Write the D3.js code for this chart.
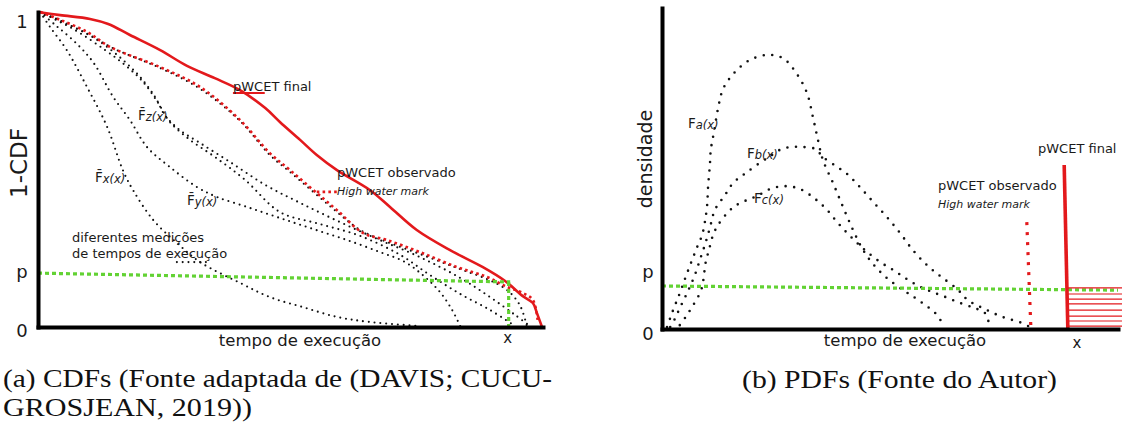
<!DOCTYPE html>
<html>
<head>
<meta charset="utf-8">
<script src="https://cdn.jsdelivr.net/npm/d3@7"></script>
<style>
  body { margin: 0; background: #fff; }
  svg { display: block; }
</style>
</head>
<body>
<svg id="fig" width="1122" height="428"></svg>
<script>
// ---------------- (a) CDF panel: [execution time, 1-CDF] ----------------
const cdfFinal = [[0,1.0],[4.4,0.990],[10.3,0.978],[13.9,0.962],[18.2,0.927],[24.2,0.879],[29.5,0.829],[35.0,0.790],[40.0,0.752],[45.0,0.695],[47.9,0.651],[51.9,0.594],[55.2,0.546],[59.2,0.498],[65.7,0.435],[69.7,0.381],[75.0,0.308],[81.6,0.244],[88.1,0.190],[92.5,0.146],[96.0,0.098],[98.0,0.076],[98.8,0.044],[99.8,0.0]];
const cdfObserved = [[0.5,1.0],[4.4,0.975],[9.7,0.937],[14.3,0.889],[24.2,0.825],[32.1,0.762],[40.0,0.657],[45.9,0.552],[49.9,0.498],[54.5,0.435],[59.2,0.371],[64.4,0.298],[69.1,0.276],[75.6,0.238],[83.0,0.190],[88.9,0.159],[92.9,0.127],[96.0,0.108],[98.0,0.086],[99.0,0.013]];
const cdfX = [[0.4,1.0],[2.4,0.952],[5.7,0.879],[9.7,0.762],[13.7,0.635],[16.8,0.498],[18.8,0.435],[22.8,0.340],[27.5,0.267],[32.1,0.206],[40.0,0.140],[45.9,0.095],[52.5,0.063],[59.2,0.032],[65.7,0.016],[75.6,0.003]];
const cdfY = [[0.4,1.0],[3.4,0.959],[7.3,0.905],[10.9,0.841],[14.9,0.730],[18.2,0.657],[21.6,0.571],[26.1,0.508],[31.5,0.444],[35.4,0.413],[41.4,0.381],[47.9,0.346],[54.5,0.311],[61.2,0.276],[67.7,0.238],[72.7,0.206],[76.6,0.159],[79.6,0.111],[82.0,0.054],[83.6,0.003]];
const cdfZ1 = [[0.4,1.0],[6.3,0.959],[12.3,0.905],[16.8,0.848],[20.2,0.794],[23.2,0.730],[25.1,0.673],[28.1,0.625],[32.1,0.584],[38.0,0.524],[45.0,0.451],[51.9,0.394],[59.8,0.333],[67.7,0.276],[75.6,0.222],[83.6,0.156],[89.5,0.095],[94.5,0.038],[97.4,0.003]];
const cdfZ2 = [[0.4,1.0],[7.3,0.943],[13.3,0.879],[17.2,0.832],[20.8,0.778],[23.8,0.711],[26.1,0.651],[30.1,0.594],[35.0,0.540],[41.0,0.467],[47.9,0.365],[55.8,0.327],[63.8,0.289],[71.7,0.229],[77.6,0.165],[83.6,0.105],[89.5,0.054],[94.5,0.003]];
const cdfW = [[0.4,1.0],[4.8,0.968],[9.9,0.930],[14.7,0.886],[24.2,0.822],[32.1,0.756],[40.0,0.654],[45.9,0.546],[49.9,0.492],[54.5,0.429],[59.2,0.365],[63.8,0.308],[69.1,0.270],[75.6,0.232],[83.0,0.187],[88.9,0.152],[92.9,0.117],[95.4,0.070],[96.8,0.003]];
const cdfPLine = [[0,0.171],[93.5,0.143]];
const cdfXMark = [[93.2,0.143],[93.2,0]];
const cdfFinalLeader = [[38.6,0.743],[44.9,0.743]];
const cdfHwmLeader = [[55.2,0.429],[59.4,0.429]];
const cdfNoteLeader = [[27.5,0.206],[33.5,0.206]];
const cdfTickLabels = ["1", "p", "0"];
const cdfTickValues = [0.98, 0.171, 0];

// ---------------- (b) PDF panel: [execution time, density] ----------------
const pdfA = [[1.1,0.006],[1.8,0.034],[2.6,0.065],[3.5,0.097],[4.4,0.131],[5.5,0.174],[6.6,0.215],[7.7,0.255],[8.8,0.293],[9.4,0.333],[9.9,0.386],[10.1,0.442],[10.5,0.511],[10.7,0.558],[11.4,0.614],[12.3,0.688],[13.4,0.748],[15.6,0.794],[18.9,0.835],[23.0,0.854],[26.5,0.844],[29.6,0.794],[31.8,0.735],[33.1,0.660],[34.2,0.589],[35.3,0.526],[37.5,0.455],[39.7,0.380],[41.9,0.308],[44.1,0.246],[46.3,0.202],[49.3,0.159],[52.9,0.121],[55.5,0.097],[57.7,0.075],[59.9,0.050],[61.6,0.016]];
const pdfB = [[1.8,0.006],[2.9,0.034],[3.9,0.065],[5.0,0.097],[6.1,0.131],[7.2,0.168],[8.3,0.215],[9.4,0.262],[10.5,0.315],[11.6,0.371],[13.8,0.417],[15.6,0.455],[17.8,0.480],[20.8,0.511],[24.1,0.542],[26.3,0.561],[28.7,0.567],[30.9,0.567],[33.6,0.561],[35.3,0.536],[38.4,0.505],[40.6,0.483],[43.4,0.442],[46.3,0.396],[49.3,0.349],[52.2,0.299],[55.0,0.246],[58.1,0.199],[61.0,0.165],[64.7,0.125],[67.1,0.090],[70.8,0.062],[74.8,0.037],[78.9,0.019],[80.7,0.006]];
const pdfC = [[3.9,0.012],[5.5,0.044],[6.6,0.069],[7.9,0.100],[8.8,0.131],[9.2,0.168],[9.6,0.209],[10.3,0.246],[11.2,0.293],[12.3,0.324],[14.3,0.361],[16.0,0.383],[18.2,0.399],[20.8,0.414],[23.7,0.436],[27.0,0.445],[30.3,0.436],[33.6,0.405],[36.2,0.371],[38.4,0.333],[40.6,0.299],[42.8,0.268],[45.0,0.240],[47.8,0.209],[50.7,0.184],[53.3,0.159],[55.9,0.137],[58.8,0.118],[62.1,0.100],[65.4,0.081],[68.6,0.065],[70.8,0.050],[71.9,0.006]];
const pdfPLine = [[0,0.134],[100,0.121]];
const pdfObserved = [[80.0,0.333],[80.9,0]];
const pdfFinal = [[88.2,0.511],[89.0,0]];
const pdfHatchLevels = [0.128,0.109,0.093,0.078,0.059,0.040,0.025,0.009];
const pdfHatchSpan = [89.0, 101];
const pdfTickLabels = ["p", "0"];
const pdfTickValues = [0.175, 0];

// ---------------- drawing ----------------
const RED = "#e3191c", GREEN = "#62d233", INK = "#111";
const svg = d3.select("#fig");

const xL = d3.scaleLinear().domain([0, 100]).range([38, 543]);
const yL = d3.scaleLinear().domain([0, 1]).range([327, 12]);
const xR = d3.scaleLinear().domain([0, 100]).range([662, 1118]);
const yR = d3.scaleLinear().domain([0, 1]).range([329, 8]);

const smoothL = d3.line().x(d => xL(d[0])).y(d => yL(d[1])).curve(d3.curveCatmullRom.alpha(0.5));
const straightL = d3.line().x(d => xL(d[0])).y(d => yL(d[1]));
const smoothR = d3.line().x(d => xR(d[0])).y(d => yR(d[1])).curve(d3.curveCatmullRom.alpha(0.5));
const straightR = d3.line().x(d => xR(d[0])).y(d => yR(d[1]));

function path(g, d, gen, style) {
  const p = g.append("path").attr("d", gen(d)).attr("fill", "none");
  Object.entries(style).forEach(([k, v]) => p.attr(k, v));
  return p;
}
const blackDotsL = { stroke: INK, "stroke-width": 2.1, "stroke-dasharray": "0 5.8", "stroke-linecap": "round" };
const blackDotsR = { stroke: INK, "stroke-width": 2.6, "stroke-dasharray": "0 8.6", "stroke-linecap": "round" };
const greenDots = { stroke: GREEN, "stroke-width": 3.2, "stroke-dasharray": "4 3" };

function label(g, x, y, parts) {
  const t = g.append("text").attr("x", x).attr("y", y)
    .attr("font-family", "DejaVu Sans, Verdana, sans-serif").attr("fill", "#1a1a1a");
  parts.forEach(p => {
    const s = t.append("tspan").text(p.text).attr("font-size", p.size);
    if (p.italic) s.attr("font-style", "italic");
    if (p.dy) s.attr("dy", p.dy);
  });
  return t;
}

// ---- panel (a)
const gA = svg.append("g");
[cdfX, cdfY, cdfZ1, cdfZ2, cdfW].forEach(c => path(gA, c, smoothL, blackDotsL));
path(gA, cdfNoteLeader, straightL, blackDotsL);
path(gA, cdfObserved, smoothL, { stroke: RED, "stroke-width": 2.6, "stroke-dasharray": "2.6 3.2" });
path(gA, cdfHwmLeader, straightL, { stroke: RED, "stroke-width": 2.6, "stroke-dasharray": "2.6 3.2" });
path(gA, cdfFinal, smoothL, { stroke: RED, "stroke-width": 2.6 });
path(gA, cdfFinalLeader, straightL, { stroke: RED, "stroke-width": 2 });
path(gA, cdfPLine, straightL, greenDots);
path(gA, cdfXMark, straightL, greenDots);

gA.append("g").attr("transform", `translate(${xL(0)},0)`)
  .call(d3.axisLeft(yL).tickValues([]).tickSizeOuter(0))
  .select(".domain").attr("stroke", "#000").attr("stroke-width", 4).attr("stroke-linecap", "square");
gA.append("g").attr("transform", `translate(0,${yL(0)})`)
  .call(d3.axisBottom(xL).tickValues([]).tickSizeOuter(0))
  .select(".domain").attr("stroke", "#000").attr("stroke-width", 4).attr("stroke-linecap", "square");

const tickDy = { "1": 10, "p": 5, "0": 10 };
cdfTickLabels.forEach((lab, i) => {
  gA.append("text").attr("x", 22).attr("y", yL(cdfTickValues[i]) + tickDy[lab])
    .attr("text-anchor", "middle").attr("font-family", "DejaVu Sans, sans-serif")
    .attr("font-size", 18).attr("fill", "#1a1a1a").text(lab);
});
gA.append("text").attr("transform", "translate(27,163) rotate(-90)")
  .attr("text-anchor", "middle").attr("font-family", "DejaVu Sans, sans-serif")
  .attr("font-size", 23).attr("fill", "#1a1a1a").text("1-CDF");
gA.append("text").attr("x", 300).attr("y", 346).attr("text-anchor", "middle")
  .attr("font-family", "DejaVu Sans, sans-serif").attr("font-size", 16.5).attr("fill", "#1a1a1a")
  .text("tempo de execução");
gA.append("text").attr("x", xL(cdfXMark[0][0]) - 1).attr("y", 343).attr("text-anchor", "middle")
  .attr("font-family", "DejaVu Sans, sans-serif").attr("font-size", 15).attr("fill", "#1a1a1a").text("x");

label(gA, 233, 91, [{ text: "pWCET final", size: 13 }]);
label(gA, 337, 177, [{ text: "pWCET observado", size: 13 }]);
label(gA, 337, 195, [{ text: "High water mark", size: 11, italic: true }]);
label(gA, 138, 120, [{ text: "F\u0304", size: 13.5 }, { text: "z(x)", size: 11.5, italic: true, dy: 1 }]);
label(gA, 95, 182, [{ text: "F\u0304", size: 13.5 }, { text: "x(x)", size: 11.5, italic: true, dy: 1 }]);
label(gA, 187, 205, [{ text: "F\u0304", size: 13.5 }, { text: "y(x)", size: 11.5, italic: true, dy: 1 }]);
label(gA, 72, 242, [{ text: "diferentes medições", size: 13 }]);
label(gA, 72, 258, [{ text: "de tempos de execução", size: 13 }]);

// ---- panel (b)
const gB = svg.append("g");
[pdfA, pdfB, pdfC].forEach(c => path(gB, c, smoothR, blackDotsR));
path(gB, pdfPLine, straightR, greenDots);
path(gB, pdfObserved, straightR, { stroke: RED, "stroke-width": 3.2, "stroke-dasharray": "3 7" });
gB.selectAll("line.hatch").data(pdfHatchLevels).join("line").attr("class", "hatch")
  .attr("x1", xR(pdfHatchSpan[0])).attr("x2", xR(pdfHatchSpan[1]))
  .attr("y1", d => yR(d)).attr("y2", d => yR(d))
  .attr("stroke", RED).attr("stroke-width", 1.2);
path(gB, pdfFinal, straightR, { stroke: RED, "stroke-width": 3.6 });

gB.append("g").attr("transform", `translate(${xR(0)},0)`)
  .call(d3.axisLeft(yR).tickValues([]).tickSizeOuter(0))
  .select(".domain").attr("stroke", "#000").attr("stroke-width", 4).attr("stroke-linecap", "square");
gB.append("g").attr("transform", `translate(0,${yR(0)})`)
  .call(d3.axisBottom(xR).tickValues([]).tickSizeOuter(0))
  .select(".domain").attr("stroke", "#000").attr("stroke-width", 4).attr("stroke-linecap", "square");

pdfTickLabels.forEach((lab, i) => {
  gB.append("text").attr("x", 648).attr("y", yR(pdfTickValues[i]) + (lab === "p" ? 5 : 11))
    .attr("text-anchor", "middle").attr("font-family", "DejaVu Sans, sans-serif")
    .attr("font-size", 18).attr("fill", "#1a1a1a").text(lab);
});
gB.append("text").attr("transform", "translate(652,159) rotate(-90)")
  .attr("text-anchor", "middle").attr("font-family", "DejaVu Sans, sans-serif")
  .attr("font-size", 19).attr("fill", "#1a1a1a").text("densidade");
gB.append("text").attr("x", 905).attr("y", 346).attr("text-anchor", "middle")
  .attr("font-family", "DejaVu Sans, sans-serif").attr("font-size", 16.5).attr("fill", "#1a1a1a")
  .text("tempo de execução");
gB.append("text").attr("x", 1077).attr("y", 348).attr("text-anchor", "middle")
  .attr("font-family", "DejaVu Sans, sans-serif").attr("font-size", 15).attr("fill", "#1a1a1a").text("x");

label(gB, 1038, 153, [{ text: "pWCET final", size: 13 }]);
label(gB, 938, 190, [{ text: "pWCET observado", size: 13 }]);
label(gB, 938, 208, [{ text: "High water mark", size: 11, italic: true }]);
label(gB, 688, 128, [{ text: "F", size: 13.5 }, { text: "a(x)", size: 11.5, italic: true, dy: 1 }]);
label(gB, 747, 158, [{ text: "F", size: 13.5 }, { text: "b(x)", size: 11.5, italic: true, dy: 1 }]);
label(gB, 754, 203, [{ text: "F", size: 13.5 }, { text: "c(x)", size: 11.5, italic: true, dy: 1 }]);

// ---- sub-captions
function caption(x, y, str, len) {
  svg.append("text").attr("x", x).attr("y", y)
    .attr("font-family", "Liberation Serif, Times New Roman, serif").attr("font-size", 25)
    .attr("fill", "#111").attr("textLength", len).attr("lengthAdjust", "spacingAndGlyphs")
    .text(str);
}
caption(3, 387, "(a) CDFs (Fonte adaptada de (DAVIS; CUCU-", 549);
caption(3, 416, "GROSJEAN, 2019))", 249);
caption(742, 388, "(b) PDFs (Fonte do Autor)", 315);
</script>
</body>
</html>
